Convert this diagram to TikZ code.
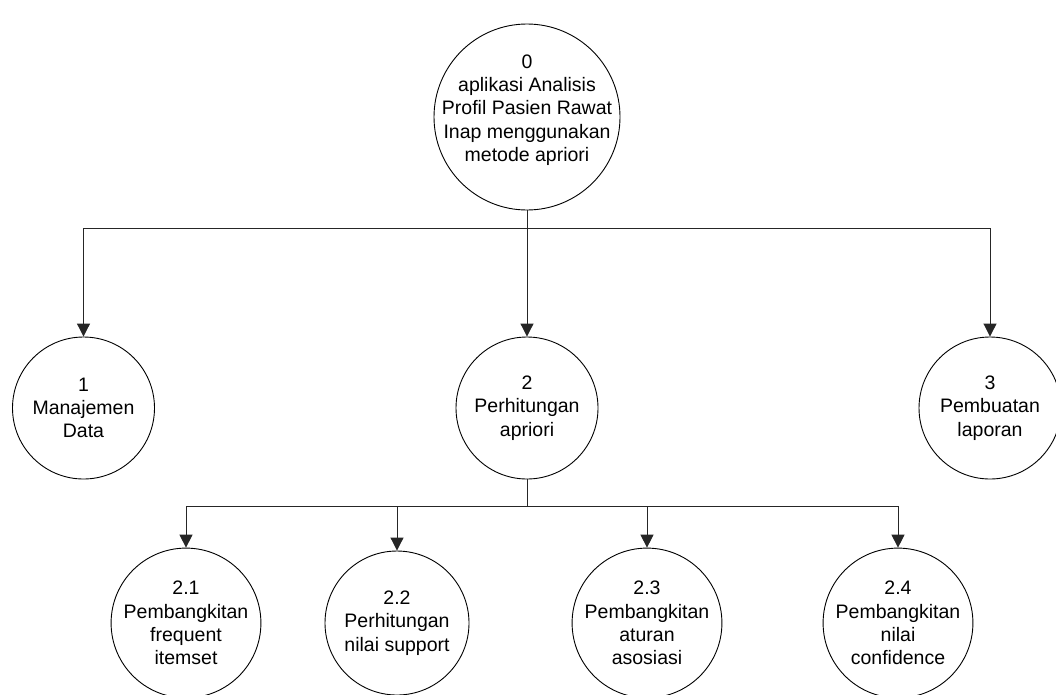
\documentclass[tikz,border=0pt]{standalone}
\usepackage{fontspec}
\setmainfont{Liberation Sans}
\usetikzlibrary{arrows.meta}

\tikzset{
  proctext/.style={inner sep=0pt, align=center, font=\fontsize{19.5}{23.3}\selectfont},
  proc/.style={proctext, circle, draw=black, line width=0.9pt},
  bigproc/.style={proc, minimum size=186pt},
  midproc/.style={proc, minimum size=142pt},
  subproc/.style={proc, minimum size=144pt},
  link/.style={draw=black!85, line width=1pt},
  flow/.style={link, -{Triangle[width=13pt,length=13pt]}}
}

\begin{document}
\begin{tikzpicture}[x=1pt, y=-1pt]
  \useasboundingbox (0,0) rectangle (1056,694);

  % context process: circle with its caption set a little above centre
  \node[bigproc] (p0) at (527,117) {};
  \node[proctext] (p0-text) at (527,110)
    {0\\aplikasi Analisis\\Profil Pasien Rawat\\Inap menggunakan\\metode apriori};

  % level 1 processes
  \node[midproc] (p1) at (83.5,408) {1\\Manajemen\\Data};
  \node[midproc] (p2) at (527,408) {2\\Perhitungan\\apriori};
  \node[midproc] (p3) at (990,408) {3\\Pembuatan\\laporan};

  % level 2 processes
  \node[subproc] (p21) at (186,623) {2.1\\Pembangkitan\\frequent\\itemset};
  \node[subproc] (p22) at (397,623) {2.2\\Perhitungan\\nilai support};
  \node[subproc] (p23) at (647,623) {2.3\\Pembangkitan\\aturan\\asosiasi};
  \node[subproc] (p24) at (898,623) {2.4\\Pembangkitan\\nilai\\confidence};

  % branch points
  \coordinate (j0) at (527,228);
  \coordinate (j2) at (527,506);

  % decomposition of process 0
  \draw[link] (p0) -- (j0);
  \draw[flow] (j0) -| (p1);
  \draw[flow] (j0) -- (p2);
  \draw[flow] (j0) -| (p3);

  % decomposition of process 2
  \draw[link] (p2) -- (j2);
  \draw[flow] (j2) -| (p21);
  \draw[flow] (j2) -| (p22);
  \draw[flow] (j2) -| (p23);
  \draw[flow] (j2) -| (p24);
\end{tikzpicture}
\end{document}
